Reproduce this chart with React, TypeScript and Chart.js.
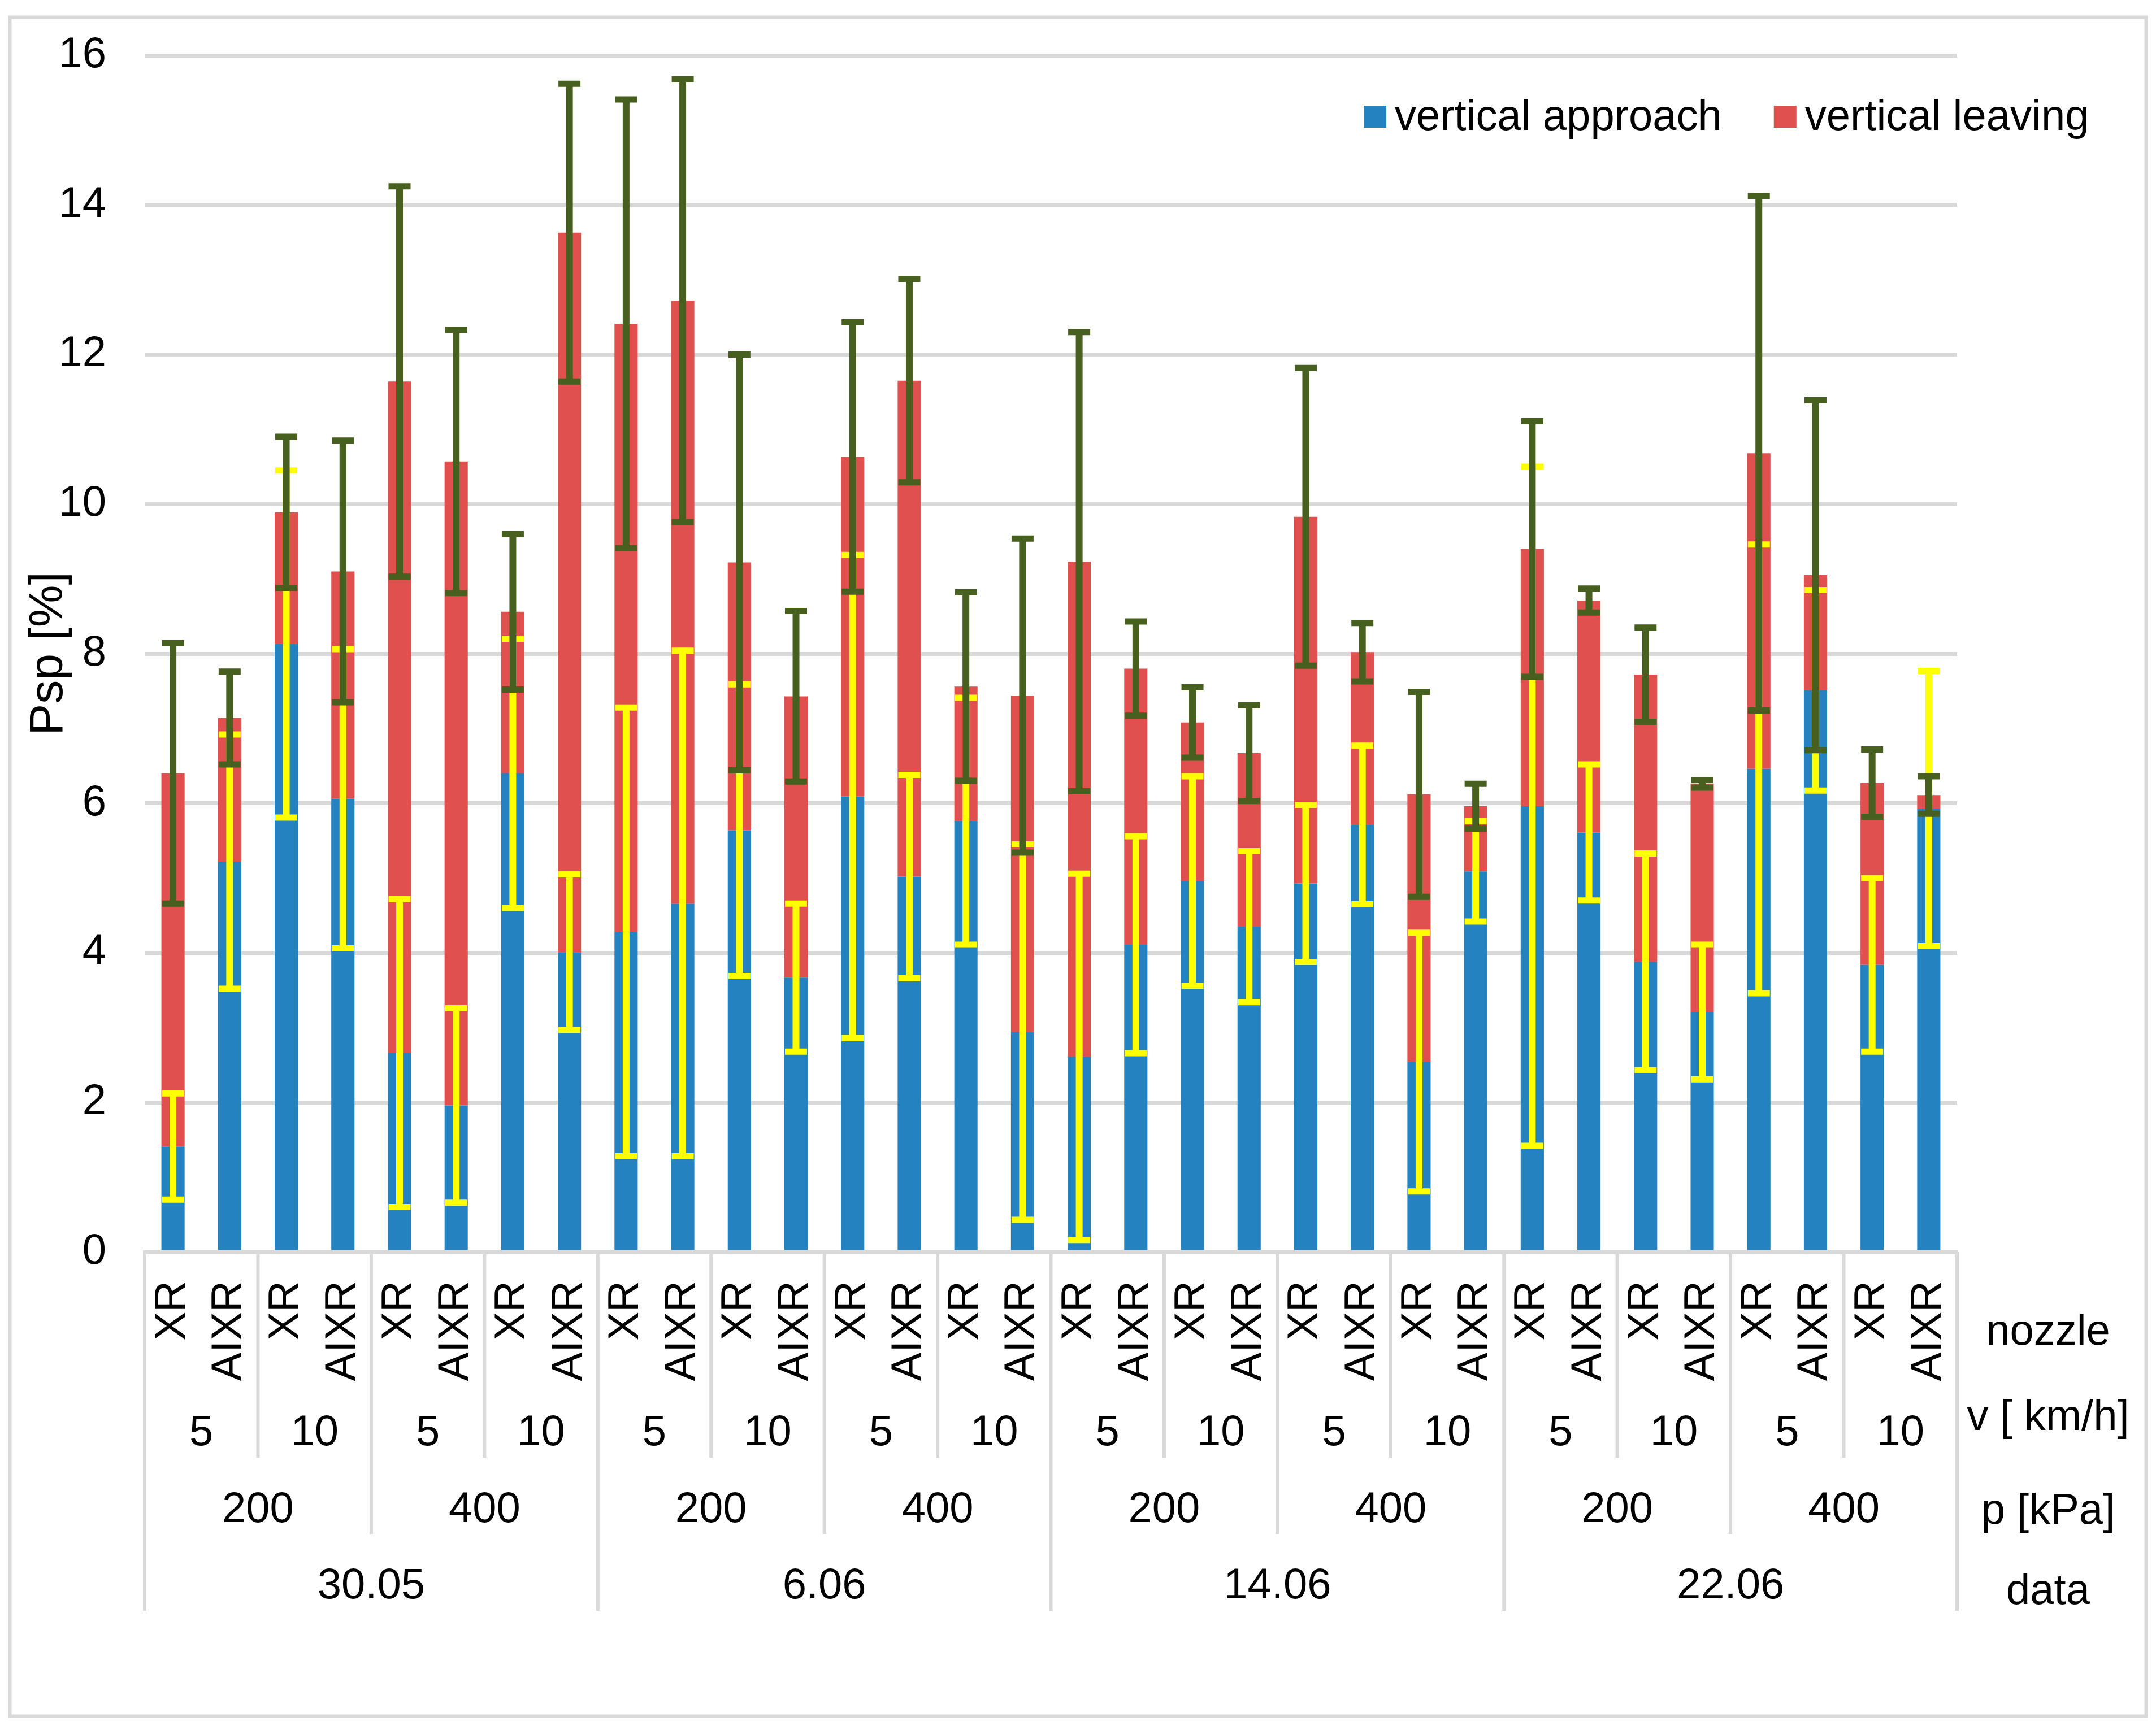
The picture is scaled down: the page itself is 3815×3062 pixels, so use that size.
import { useEffect, useRef } from 'react';
import { Chart, registerables, type Plugin, type ChartConfiguration } from 'chart.js';

Chart.register(...registerables);

// category levels (outer -> inner)
const dates = ['30.05', '6.06', '14.06', '22.06'];
const pressures = ['200', '400'];
const speeds = ['5', '10'];
const nozzles = ['XR', 'AIXR'];
const rowTitles = ['nozzle', 'v [ km/h]', 'p [kPa]', 'data'];

// Psp [%]
const approach = [1.41, 5.22, 8.13, 6.06, 2.66, 1.96, 6.40, 4.01, 4.28, 4.66, 5.64, 3.67, 6.09, 5.02, 5.76, 2.94,
    2.61, 4.11, 4.96, 4.35, 4.93, 5.71, 2.54, 5.09, 5.96, 5.61, 3.88, 3.21, 6.46, 7.51, 3.84, 5.93];
const leaving = [4.99, 1.92, 1.76, 3.04, 8.98, 8.61, 2.16, 9.62, 8.13, 8.06, 3.58, 3.76, 4.54, 6.63, 1.80, 4.50,
    6.62, 3.69, 2.12, 2.32, 4.90, 2.31, 3.58, 0.87, 3.44, 3.10, 3.84, 3.05, 4.22, 1.54, 2.43, 0.18];
// error bars: yellow on approach, green on approach + leaving
const approachErr = [0.71, 1.70, 2.32, 2.00, 2.06, 1.30, 1.80, 1.04, 3.00, 3.38, 1.95, 0.99, 3.23, 1.36, 1.65, 2.51,
    2.45, 1.45, 1.40, 1.01, 1.05, 1.06, 1.73, 0.67, 4.54, 0.91, 1.45, 0.90, 3.00, 1.34, 1.16, 1.84];
const totalErr = [1.74, 0.62, 1.01, 1.75, 2.61, 1.76, 1.04, 1.99, 3.00, 2.96, 2.78, 1.14, 1.80, 1.36, 1.26, 2.10,
    3.07, 0.63, 0.47, 0.64, 1.99, 0.39, 1.37, 0.30, 1.71, 0.16, 0.63, 0.05, 3.44, 2.34, 0.45, 0.25];

type Cat = { date: string; p: string; v: string; nozzle: string };
const categories: Cat[] = [];
dates.forEach(date => pressures.forEach(p => speeds.forEach(v => nozzles.forEach(nozzle =>
    categories.push({ date, p, v, nozzle })))));
const labels = categories.map(c => `${c.date} ${c.p} ${c.v} ${c.nozzle}`);

const FAMILY = '"Liberation Sans", Arial, sans-serif';
const GRID = '#D9D9D9';
const BLUE = '#2482C0';
const RED = '#DF504F';
const YELLOW = '#FFFF00';
const GREEN = '#475F1F';

const background: Plugin<'bar'> = {
    id: 'background',
    beforeDraw(chart) {
        const { ctx, width, height } = chart;
        ctx.save();
        ctx.fillStyle = '#fff';
        ctx.fillRect(0, 0, width, height);
        ctx.restore();
    },
    afterDraw(chart) {
        const { ctx, width, height } = chart;
        ctx.save();
        ctx.strokeStyle = GRID;
        ctx.lineWidth = 6;
        ctx.strokeRect(17.5, 30.5, width - 35, height - 55);
        ctx.restore();
    }
};

const errorBars: Plugin<'bar'> = {
    id: 'errorBars',
    afterDatasetsDraw(chart) {
        const { ctx } = chart;
        const y = chart.scales.y;
        const meta = chart.getDatasetMeta(0);
        const draw = (cx: number, v: number, e: number, color: string) => {
            const top = y.getPixelForValue(v + e);
            const bot = y.getPixelForValue(v - e);
            ctx.strokeStyle = color;
            ctx.lineCap = 'butt';
            ctx.lineWidth = 12;
            ctx.beginPath();
            ctx.moveTo(cx, top);
            ctx.lineTo(cx, bot);
            ctx.stroke();
            ctx.lineWidth = 11;
            ctx.beginPath();
            ctx.moveTo(cx - 19.5, top);
            ctx.lineTo(cx + 19.5, top);
            ctx.moveTo(cx - 19.5, bot);
            ctx.lineTo(cx + 19.5, bot);
            ctx.stroke();
        };
        ctx.save();
        meta.data.forEach((bar, i) => draw(bar.x, approach[i], approachErr[i], YELLOW));
        meta.data.forEach((bar, i) => draw(bar.x, approach[i] + leaving[i], totalErr[i], GREEN));
        ctx.restore();
    }
};

const groupAxis: Plugin<'bar'> = {
    id: 'groupAxis',
    afterDraw(chart) {
        const { ctx, chartArea: a } = chart;
        const x = chart.scales.x;
        const n = categories.length;
        const w = (a.right - a.left) / n;
        const vSize = nozzles.length;
        const pSize = vSize * speeds.length;
        const dSize = pSize * pressures.length;

        ctx.save();
        ctx.strokeStyle = GRID;
        ctx.lineWidth = 6;
        for (let k = 0; k <= n; k++) {
            let depth = 0;
            if (k % dSize === 0) depth = 635;
            else if (k % pSize === 0) depth = 499;
            else if (k % vSize === 0) depth = 364;
            if (!depth) continue;
            const px = a.left + k * w;
            ctx.beginPath();
            ctx.moveTo(px, a.bottom);
            ctx.lineTo(px, a.bottom + depth);
            ctx.stroke();
        }

        ctx.fillStyle = '#000';
        ctx.font = `76px ${FAMILY}`;

        // nozzle row, rotated
        categories.forEach((c, i) => {
            ctx.save();
            ctx.translate(x.getPixelForValue(i), a.bottom + 51);
            ctx.rotate(-Math.PI / 2);
            ctx.textAlign = 'right';
            ctx.textBaseline = 'middle';
            ctx.fillText(c.nozzle, 0, 0);
            ctx.restore();
        });

        ctx.textAlign = 'center';
        ctx.textBaseline = 'alphabetic';
        const row = (size: number, dy: number, text: (c: Cat) => string) => {
            for (let s = 0; s < n; s += size) {
                const cx = (x.getPixelForValue(s) + x.getPixelForValue(s + size - 1)) / 2;
                ctx.fillText(text(categories[s]), cx, a.bottom + dy);
            }
        };
        row(vSize, 342, c => c.v);
        row(pSize, 478, c => c.p);
        row(dSize, 613, c => c.date);

        // row titles on the right
        const tx = a.right + 161;
        const ty = [164, 315, 481, 623];
        rowTitles.forEach((t, i) => ctx.fillText(t, tx, a.bottom + ty[i]));
        ctx.restore();
    }
};

const legendBox: Plugin<'bar'> = {
    id: 'legendBox',
    afterDraw(chart) {
        const { ctx, chartArea: a } = chart;
        ctx.save();
        ctx.font = `76px ${FAMILY}`;
        ctx.textAlign = 'left';
        ctx.textBaseline = 'alphabetic';
        let lx = a.right - 1050;
        const boxY = a.top + 89;
        chart.data.datasets.forEach(ds => {
            ctx.fillStyle = ds.backgroundColor as string;
            ctx.fillRect(lx, boxY, 40, 39);
            ctx.fillStyle = '#000';
            const text = ds.label as string;
            ctx.fillText(text, lx + 55, boxY + 43);
            lx += 55 + ctx.measureText(text).width + 92;
        });
        ctx.restore();
    }
};

export default function App() {
    const chartRef = useRef<HTMLCanvasElement>(null);

    useEffect(() => {
        if (!chartRef.current) return;
        const config: ChartConfiguration<'bar'> = {
            type: 'bar',
            data: {
                labels,
                datasets: [
                    { label: 'vertical approach', data: approach, backgroundColor: BLUE, barPercentage: 0.41, categoryPercentage: 1 },
                    { label: 'vertical leaving', data: leaving, backgroundColor: RED, barPercentage: 0.41, categoryPercentage: 1 }
                ]
            },
            options: {
                animation: false,
                responsive: true,
                maintainAspectRatio: false,
                devicePixelRatio: 1,
                layout: { padding: { left: 0, top: 98, right: 352, bottom: 0 } },
                plugins: {
                    legend: { display: false },
                    title: { display: false },
                    tooltip: { enabled: false }
                },
                scales: {
                    x: {
                        stacked: true,
                        offset: true,
                        grid: { display: false },
                        border: { display: true, color: GRID, width: 6 },
                        ticks: { display: false },
                        afterFit: (scale) => { scale.height = 846; }
                    },
                    y: {
                        stacked: true,
                        min: 0,
                        max: 16,
                        // gap between labels and plot comes from an invisible tick mark
                        ticks: { stepSize: 2, color: '#000', padding: 0, font: { size: 76, family: FAMILY } },
                        grid: { color: GRID, lineWidth: 7, drawTicks: true, tickLength: 68, tickColor: 'rgba(0,0,0,0)' },
                        border: { display: false },
                        title: {
                            display: true,
                            text: 'Psp [%]',
                            color: '#000',
                            font: { size: 84, family: FAMILY },
                            padding: { top: 36, bottom: 0 }
                        },
                        afterFit: (scale) => { scale.width = 256; }
                    }
                }
            },
            plugins: [background, errorBars, groupAxis, legendBox]
        };
        const chart = new Chart(chartRef.current, config);
        return () => {
            chart.destroy();
        };
    }, []);

    return (
        <div style={{ position: 'absolute', left: 0, top: 0, width: 3815, height: 3062 }}>
            <canvas ref={chartRef}></canvas>
        </div>
    );
}
